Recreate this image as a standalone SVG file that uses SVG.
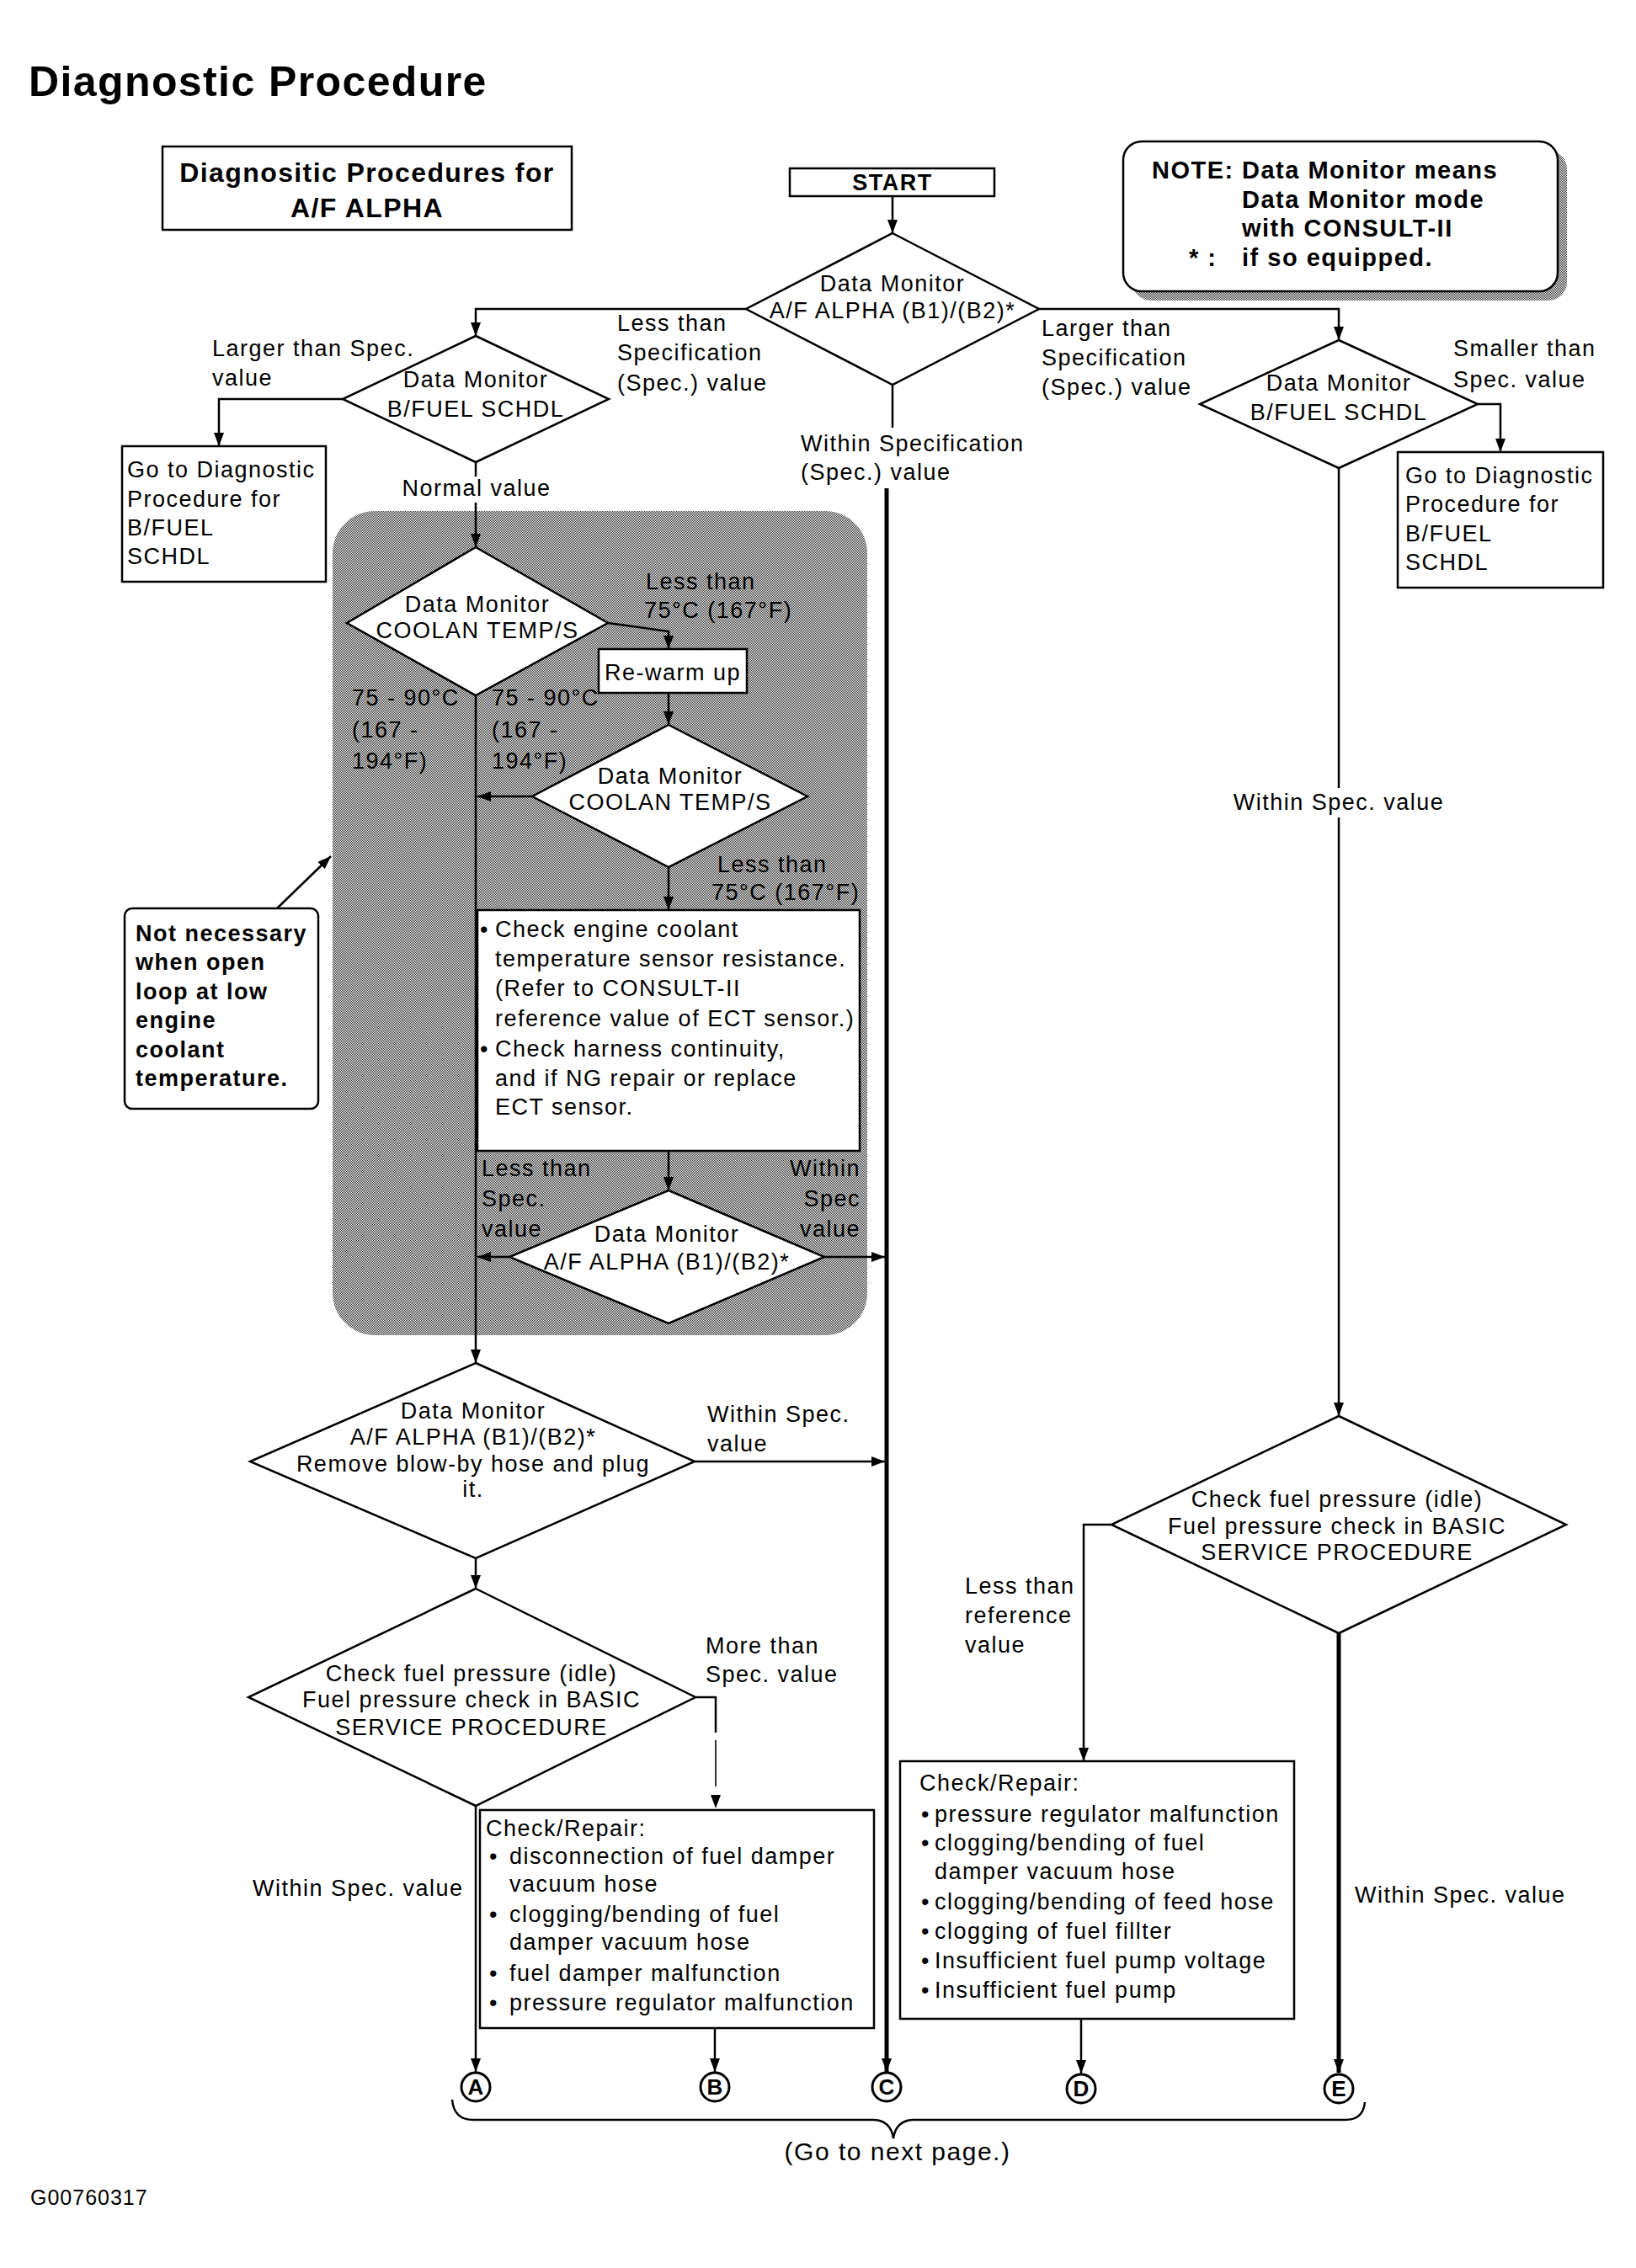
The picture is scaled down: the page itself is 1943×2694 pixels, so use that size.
<svg xmlns="http://www.w3.org/2000/svg" width="1943" height="2694" viewBox="0 0 1943 2694">
<style>
.t{font-family:"Liberation Sans",Arial,Helvetica,sans-serif;font-size:27px;letter-spacing:1.5px;fill:#000}
.b{font-weight:bold}
.c{text-anchor:middle}
.e{text-anchor:end}
.ln{stroke:#000;stroke-width:2.5;fill:none}
.thick{stroke-width:5}
.thin{stroke-width:1.6}
.shape{fill:#fff;stroke:#000;stroke-width:2.5}
.circ{fill:#fff;stroke:#000;stroke-width:3}
.lt{font-size:26px;letter-spacing:0}
</style>
<defs>
<pattern id="dots" width="2" height="2" patternUnits="userSpaceOnUse">
<rect width="2" height="2" fill="#fff"/>
<rect width="1" height="1" fill="#2a2a2a"/>
<rect x="1" y="1" width="1" height="1" fill="#2a2a2a"/>
</pattern>
<marker id="ah" viewBox="0 0 16 12" refX="16" refY="6" markerWidth="16" markerHeight="12" markerUnits="userSpaceOnUse" orient="auto">
<path d="M0,0 L16,6 L0,12 z" fill="#000"/>
</marker>
</defs>
<rect width="1943" height="2694" fill="#fff"/>

<text x="34" y="114" class="t b" style="font-size:50px;letter-spacing:1.4px">Diagnostic Procedure</text>

<g id="title-box">
<rect x="193" y="174" width="486" height="99" class="shape"/>
<text x="436" y="216" class="t b c" style="font-size:32px;letter-spacing:1.4px">Diagnositic Procedures for</text>
<text x="436" y="258" class="t b c" style="font-size:32px;letter-spacing:1.4px">A/F ALPHA</text>
</g>

<g id="note">
<rect x="1345" y="179" width="516" height="178" rx="22" fill="url(#dots)"/>
<rect x="1334" y="168" width="516" height="178" rx="22" class="shape"/>
<text class="t b" style="font-size:29px"><tspan x="1368" y="212">NOTE:</tspan><tspan x="1475" y="212">Data Monitor means</tspan><tspan x="1475" y="247">Data Monitor mode</tspan><tspan x="1475" y="281">with CONSULT-II</tspan><tspan x="1412" y="316">* :</tspan><tspan x="1475" y="316">if so equipped.</tspan></text>
</g>

<g id="shaded-area">
<rect x="395" y="607" width="635" height="979" rx="50" fill="url(#dots)"/>
</g>

<g id="connectors">
<path class="ln" d="M1060,233 V277" marker-end="url(#ah)"/>
<path class="ln" d="M886,367 H565 V399" marker-end="url(#ah)"/>
<path class="ln" d="M1234,367 H1590 V404" marker-end="url(#ah)"/>
<path class="ln" d="M1060,457 V508"/>
<path class="ln thick" d="M1053,580 V2461" marker-end="url(#ah)"/>
<path class="ln" d="M407,474 H260 V530" marker-end="url(#ah)"/>
<path class="ln" d="M565,549 V566"/>
<path class="ln" d="M565,597 V650" marker-end="url(#ah)"/>
<path class="ln" d="M722,740 L794,750 V771" marker-end="url(#ah)"/>
<path class="ln" d="M794,823 V861" marker-end="url(#ah)"/>
<path class="ln" d="M632,946 H567" marker-end="url(#ah)"/>
<path class="ln" d="M565,826 V1619" marker-end="url(#ah)"/>
<path class="ln" d="M794,1030 V1081" marker-end="url(#ah)"/>
<path class="ln" d="M794,1367 V1414" marker-end="url(#ah)"/>
<path class="ln" d="M605,1493 H567" marker-end="url(#ah)"/>
<path class="ln" d="M979,1493 H1051" marker-end="url(#ah)"/>
<path class="ln" d="M329,1079 L393,1017" marker-end="url(#ah)"/>
<path class="ln" d="M825,1736 H1051" marker-end="url(#ah)"/>
<path class="ln" d="M565,1851 V1887" marker-end="url(#ah)"/>
<path class="ln" d="M565,2145 V2461" marker-end="url(#ah)"/>
<path class="ln" d="M826,2016 H850 V2058"/>
<path class="ln thin" d="M850,2067 V2148" stroke-dasharray="55,30" marker-end="url(#ah)"/>
<path class="ln" d="M849,2409 V2461" marker-end="url(#ah)"/>
<path class="ln" d="M1755,480 H1782 V537" marker-end="url(#ah)"/>
<path class="ln" d="M1590,556 V936"/>
<path class="ln" d="M1590,971 V1682" marker-end="url(#ah)"/>
<path class="ln" d="M1320,1811 H1287 V2092" marker-end="url(#ah)"/>
<path class="ln" d="M1284,2398 V2463" marker-end="url(#ah)"/>
<path class="ln thick" d="M1590,1940 V2462" marker-end="url(#ah)"/>
<path class="ln" d="M537,2494 Q539,2518 562,2518 L1038,2518 Q1058,2519 1061,2540 Q1064,2519 1084,2518 L1598,2518 Q1619,2518 1621,2497"/>
</g>

<g id="labels">
<text class="t"><tspan x="733" y="393">Less than</tspan><tspan x="733" y="428">Specification</tspan><tspan x="733" y="464">(Spec.) value</tspan></text>
<text class="t"><tspan x="1237" y="399">Larger than</tspan><tspan x="1237" y="434">Specification</tspan><tspan x="1237" y="469">(Spec.) value</tspan></text>
<text class="t"><tspan x="252" y="423">Larger than Spec.</tspan><tspan x="252" y="458">value</tspan></text>
<text class="t"><tspan x="1726" y="423">Smaller than</tspan><tspan x="1726" y="460">Spec. value</tspan></text>
<text class="t"><tspan x="951" y="536">Within Specification</tspan><tspan x="951" y="570">(Spec.) value</tspan></text>
<text x="566" y="589" class="t c">Normal value</text>
<text class="t"><tspan x="767" y="700">Less than</tspan><tspan x="765" y="734">75°C (167°F)</tspan></text>
<text class="t"><tspan x="418" y="838">75 - 90°C</tspan><tspan x="418" y="876">(167 -</tspan><tspan x="418" y="913">194°F)</tspan></text>
<text class="t"><tspan x="584" y="838">75 - 90°C</tspan><tspan x="584" y="876">(167 -</tspan><tspan x="584" y="913">194°F)</tspan></text>
<text class="t"><tspan x="852" y="1036">Less than</tspan><tspan x="845" y="1069">75°C (167°F)</tspan></text>
<text class="t"><tspan x="572" y="1397">Less than</tspan><tspan x="572" y="1433">Spec.</tspan><tspan x="572" y="1469">value</tspan></text>
<text class="t e"><tspan x="1022" y="1397">Within</tspan><tspan x="1022" y="1433">Spec</tspan><tspan x="1022" y="1469">value</tspan></text>
<text class="t"><tspan x="840" y="1689">Within Spec.</tspan><tspan x="840" y="1724">value</tspan></text>
<text class="t"><tspan x="838" y="1964">More than</tspan><tspan x="838" y="1998">Spec. value</tspan></text>
<text x="300" y="2252" class="t">Within Spec. value</text>
<text class="t"><tspan x="1146" y="1893">Less than</tspan><tspan x="1146" y="1928">reference</tspan><tspan x="1146" y="1963">value</tspan></text>
<text x="1590" y="962" class="t c">Within Spec. value</text>
<text x="1609" y="2260" class="t">Within Spec. value</text>
<text x="1066" y="2566" class="t c" style="font-size:30px">(Go to next page.)</text>
<text x="36" y="2619" class="t" style="font-size:25px;letter-spacing:1px">G00760317</text>
</g>

<g id="start">
<rect x="938" y="200" width="243" height="33" class="shape"/>
<text x="1060" y="226" class="t b c">START</text>
</g>

<g id="d1">
<polygon points="1060,277 1234,367 1060,457 886,367" class="shape"/>
<text class="t c"><tspan x="1060" y="346">Data Monitor</tspan><tspan x="1060" y="378">A/F ALPHA (B1)/(B2)*</tspan></text>
</g>

<g id="d2">
<polygon points="565,399 723,474 565,549 407,474" class="shape"/>
<text class="t c"><tspan x="565" y="460">Data Monitor</tspan><tspan x="565" y="495">B/FUEL SCHDL</tspan></text>
</g>

<g id="d3">
<polygon points="1590,404 1755,480 1590,556 1425,480" class="shape"/>
<text class="t c"><tspan x="1590" y="464">Data Monitor</tspan><tspan x="1590" y="499">B/FUEL SCHDL</tspan></text>
</g>

<g id="goto-left">
<rect x="145" y="530" width="242" height="161" class="shape"/>
<text class="t"><tspan x="151" y="567">Go to Diagnostic</tspan><tspan x="151" y="602">Procedure for</tspan><tspan x="151" y="636">B/FUEL</tspan><tspan x="151" y="670">SCHDL</tspan></text>
</g>

<g id="goto-right">
<rect x="1660" y="537" width="244" height="161" class="shape"/>
<text class="t"><tspan x="1669" y="574">Go to Diagnostic</tspan><tspan x="1669" y="608">Procedure for</tspan><tspan x="1669" y="643">B/FUEL</tspan><tspan x="1669" y="677">SCHDL</tspan></text>
</g>

<g id="d4">
<polygon points="565,650 722,740 565,826 412,740" class="shape"/>
<text class="t c"><tspan x="567" y="727">Data Monitor</tspan><tspan x="567" y="758">COOLAN TEMP/S</tspan></text>
</g>

<g id="rewarm">
<rect x="711" y="771" width="176" height="52" class="shape"/>
<text x="799" y="808" class="t c">Re-warm up</text>
</g>

<g id="d5">
<polygon points="794,861 959,946 794,1030 632,946" class="shape"/>
<text class="t c"><tspan x="796" y="931">Data Monitor</tspan><tspan x="796" y="962">COOLAN TEMP/S</tspan></text>
</g>

<g id="ect-check">
<rect x="567" y="1081" width="454" height="286" class="shape"/>
<text class="t"><tspan x="570" y="1113">•</tspan><tspan x="588" y="1113">Check engine coolant</tspan><tspan x="588" y="1148">temperature sensor resistance.</tspan><tspan x="588" y="1183">(Refer to CONSULT-II</tspan><tspan x="588" y="1219">reference value of ECT sensor.)</tspan><tspan x="570" y="1255">•</tspan><tspan x="588" y="1255">Check harness continuity,</tspan><tspan x="588" y="1290">and if NG repair or replace</tspan><tspan x="588" y="1324">ECT sensor.</tspan></text>
</g>

<g id="d6">
<polygon points="794,1414 979,1493 794,1572 605,1493" class="shape"/>
<text class="t c"><tspan x="792" y="1475">Data Monitor</tspan><tspan x="792" y="1508">A/F ALPHA (B1)/(B2)*</tspan></text>
</g>

<g id="not-necessary">
<rect x="148" y="1079" width="230" height="238" rx="9" class="shape"/>
<text class="t b"><tspan x="161" y="1118">Not necessary</tspan><tspan x="161" y="1152">when open</tspan><tspan x="161" y="1187">loop at low</tspan><tspan x="161" y="1221">engine</tspan><tspan x="161" y="1256">coolant</tspan><tspan x="161" y="1290">temperature.</tspan></text>
</g>

<g id="d7">
<polygon points="565,1619 825,1736 565,1851 297,1736" class="shape"/>
<text class="t c"><tspan x="562" y="1685">Data Monitor</tspan><tspan x="562" y="1716">A/F ALPHA (B1)/(B2)*</tspan><tspan x="562" y="1748">Remove blow-by hose and plug</tspan><tspan x="562" y="1778">it.</tspan></text>
</g>

<g id="d8">
<polygon points="565,1887 826,2016 565,2145 295,2016" class="shape"/>
<text class="t c"><tspan x="560" y="1997">Check fuel pressure (idle)</tspan><tspan x="560" y="2028">Fuel pressure check in BASIC</tspan><tspan x="560" y="2061">SERVICE PROCEDURE</tspan></text>
</g>

<g id="repair-1">
<rect x="570" y="2150" width="468" height="259" class="shape"/>
<text class="t"><tspan x="577" y="2181">Check/Repair:</tspan><tspan x="581" y="2214">•</tspan><tspan x="605" y="2214">disconnection of fuel damper</tspan><tspan x="605" y="2247">vacuum hose</tspan><tspan x="581" y="2283">•</tspan><tspan x="605" y="2283">clogging/bending of fuel</tspan><tspan x="605" y="2316">damper vacuum hose</tspan><tspan x="581" y="2353">•</tspan><tspan x="605" y="2353">fuel damper malfunction</tspan><tspan x="581" y="2388">•</tspan><tspan x="605" y="2388">pressure regulator malfunction</tspan></text>
</g>

<g id="d9">
<polygon points="1590,1682 1860,1811 1590,1940 1320,1811" class="shape"/>
<text class="t c"><tspan x="1588" y="1790">Check fuel pressure (idle)</tspan><tspan x="1588" y="1822">Fuel pressure check in BASIC</tspan><tspan x="1588" y="1853">SERVICE PROCEDURE</tspan></text>
</g>

<g id="repair-2">
<rect x="1069" y="2092" width="468" height="306" class="shape"/>
<text class="t"><tspan x="1092" y="2127">Check/Repair:</tspan><tspan x="1094" y="2164">•</tspan><tspan x="1110" y="2164">pressure regulator malfunction</tspan><tspan x="1094" y="2198">•</tspan><tspan x="1110" y="2198">clogging/bending of fuel</tspan><tspan x="1110" y="2232">damper vacuum hose</tspan><tspan x="1094" y="2268">•</tspan><tspan x="1110" y="2268">clogging/bending of feed hose</tspan><tspan x="1094" y="2303">•</tspan><tspan x="1110" y="2303">clogging of fuel fillter</tspan><tspan x="1094" y="2338">•</tspan><tspan x="1110" y="2338">Insufficient fuel pump voltage</tspan><tspan x="1094" y="2373">•</tspan><tspan x="1110" y="2373">Insufficient fuel pump</tspan></text>
</g>

<g id="conn-A"><circle cx="565" cy="2479" r="17" class="circ"/><text x="565" y="2488" class="t b c lt">A</text></g>
<g id="conn-B"><circle cx="849" cy="2479" r="17" class="circ"/><text x="849" y="2488" class="t b c lt">B</text></g>
<g id="conn-C"><circle cx="1053" cy="2479" r="17" class="circ"/><text x="1053" y="2488" class="t b c lt">C</text></g>
<g id="conn-D"><circle cx="1284" cy="2481" r="17" class="circ"/><text x="1284" y="2490" class="t b c lt">D</text></g>
<g id="conn-E"><circle cx="1590" cy="2481" r="17" class="circ"/><text x="1590" y="2490" class="t b c lt">E</text></g>
</svg>
